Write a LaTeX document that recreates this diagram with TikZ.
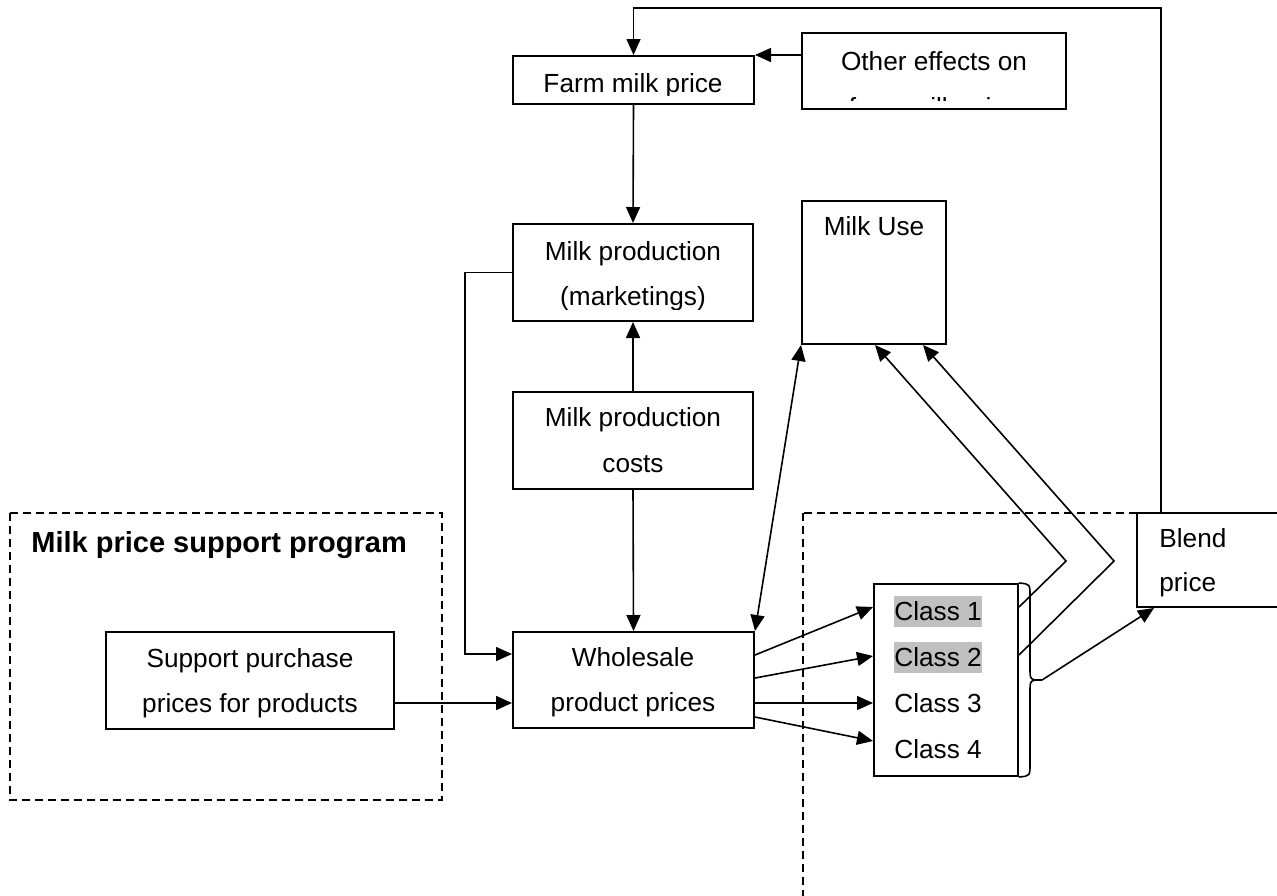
\documentclass[tikz,border=0pt]{standalone}
\usepackage{fontspec}
\setmainfont{Liberation Sans}
\usetikzlibrary{arrows.meta,calc}
\definecolor{hl}{RGB}{192,192,192}
\tikzset{
  box/.style={draw, line width=1pt, inner sep=0pt},
  txt/.style={inner sep=0pt, anchor=base, font=\fontsize{13.1}{15}\selectfont},
  conn/.style={line width=0.8pt},
  arr/.style={conn, -{Triangle[length=8pt,width=7pt]}},
  darr/.style={conn, {Triangle[length=8pt,width=7pt]}-{Triangle[length=8pt,width=7pt]}},
  region/.style={line width=0.8pt, dash pattern=on 4pt off 2.5pt},
  hlbox/.style={fill=hl, text height=12pt, text depth=3.3pt},
}
\newcommand\mkbox[5]{\node[box, minimum width={(#4-#2)*0.5pt}, minimum height={(#5-#3)*0.5pt}] (#1) at ({(#2+#4)/2},{(#3+#5)/2}) {};}
\begin{document}
\begin{tikzpicture}[x=0.5pt,y=-0.5pt]
\useasboundingbox (0,0) rectangle (1277,895);
\clip (0,0) rectangle (1277,895);

% dashed regions
\draw[region] (10,513) rectangle (442,800);
\draw[region] (803,513) rectangle (1320,930);

% boxes
\mkbox{fm}{513}{56}{754}{104}
\mkbox{oe}{802}{33}{1066}{109}
\mkbox{mp}{513}{224}{753}{321}
\mkbox{co}{513}{392}{753}{489}
\mkbox{ws}{513}{632}{754}{728}
\mkbox{sp}{106}{632}{394}{729}
\mkbox{mu}{802}{201}{946}{344}
\mkbox{cls}{874}{584}{1018}{776}
\mkbox{bl}{1137}{513}{1320}{607}

% texts
\begin{scope}
  \clip (513,56) rectangle (754,95.5);
  \node[txt] (tfm) at (633,92) {Farm milk price};
\end{scope}
\begin{scope}
  \clip (802,33) rectangle (1066,100.5);
  \node[txt] (toe1) at (934,70) {Other effects on};
  \node[txt] (toe2) at (934,116) {farm milk price};
\end{scope}
\node[txt] (tmp1) at (633,260) {Milk production};
\begin{scope}
  \clip (513,224) rectangle (753,309);
  \node[txt] (tmp2) at (633,305) {(marketings)};
\end{scope}
\node[txt] (tco1) at (633,426) {Milk production};
\node[txt] (tco2) at (633,472) {costs};
\node[txt] (tws1) at (633,666) {Wholesale};
\node[txt] (tws2) at (633,711) {product prices};
\node[txt] (tsp1) at (250,667) {Support purchase};
\node[txt] (tsp2) at (250,712) {prices for products};
\node[txt] (tmu) at (874,235) {Milk Use};
\node[txt, anchor=base west, hlbox] (c1) at (894,620) {Class 1};
\node[txt, anchor=base west, hlbox] (c2) at (894,666) {Class 2};
\node[txt, anchor=base west] (c3) at (894,712) {Class 3};
\node[txt, anchor=base west] (c4) at (894,758) {Class 4};
\node[txt, anchor=base west] (tbl1) at (1159,547) {Blend};
\node[txt, anchor=base west] (tbl2) at (1159,591) {price};
\node[txt, anchor=base west, font=\bfseries\fontsize{14.5}{17}\selectfont] (lbl) at (31,552) {Milk price support program};

% connectors
\draw[arr] (fm.south) -- (mp.north);
\draw[arr] (co.north) -- (mp.south);
\draw[arr] (co.south) -- (ws.north);
\draw[arr] (oe.west |- fm.north) -- (fm.north east);
\draw[arr] ($(bl.north west)+(25,0)$) -- ($(bl.north west)+(25,-504)$) -| (fm.north);
\draw[arr] (mp.west) -- ++(-47,0) |- ($(ws.north west)+(0,23)$);
\draw[arr] ($(sp.north east)+(0,72)$) -- ($(ws.north west)+(0,72)$);
\draw[darr] (ws.north east) -- (mu.south west);

\draw[arr] ($(ws.north east)+(0,24)$) -- ($(cls.north west)+(0,24)$);
\draw[arr] ($(ws.north east)+(0,47)$) -- ($(cls.north west)+(0,73)$);
\draw[arr] ($(ws.north east)+(0,72)$) -- ($(cls.north west)+(0,120)$);
\draw[arr] ($(ws.north east)+(0,86)$) -- ($(cls.north west)+(0,158)$);

\coordinate (b1) at (1066,561);
\coordinate (b2) at (1114,561);
\draw[arr] ($(cls.north east)+(0,24)$) -- (b1) -- ($(mu.south)+(1,0)$);
\draw[arr] ($(cls.north east)+(0,72)$) -- (b2) -- ($(mu.south)+(49,0)$);

% brace
\coordinate (brtip) at (1042,680);
\draw[conn] (cls.north east) .. controls (1030,584) .. (1030,596) -- (1030,668)
  .. controls (1030,680) .. (brtip) .. controls (1030,680) .. (1030,692) -- (1030,764)
  .. controls (1030,776) .. (cls.south east);
\draw[arr] (brtip) -- ($(bl.south west)+(18,0)$);
\end{tikzpicture}
\end{document}
